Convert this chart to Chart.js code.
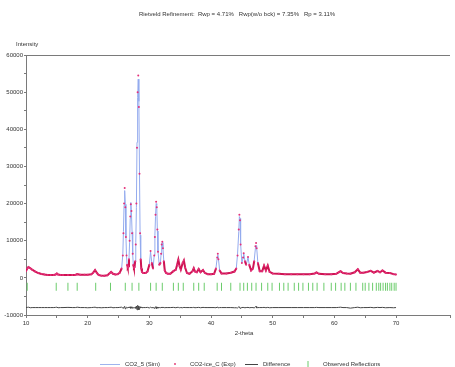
<!DOCTYPE html>
<html><head><meta charset="utf-8">
<script src="https://cdn.jsdelivr.net/npm/chart.js@4"></script>
<style>html,body{margin:0;padding:0;background:#fff}#wrap{width:455px;height:367px}</style>
</head><body><div id="wrap"><canvas id="c" width="455" height="367"></canvas></div>
<script>
const chartTitle = 'Rietveld Refinement:  Rwp = 4.71%   Rwp(w/o bck) = 7.35%   Rp = 3.11%';
const seriesNames = ['CO2_5 (Sim)', 'CO2-ice_C (Exp)', 'Difference', 'Observed Reflections'];
const twoTheta = [10.0,10.2,10.4,10.7,11.0,11.5,12.0,12.5,13.0,13.5,14.0,14.5,14.8,15.0,15.2,15.6,16.0,16.8,17.5,18.0,18.3,18.8,19.5,20.0,20.6,20.9,21.2,21.5,21.8,22.2,22.7,23.2,23.6,23.8,24.1,24.5,24.9,25.2,25.5,25.7,25.8,25.9,26.0,26.1,26.2,26.3,26.4,26.5,26.6,26.7,26.8,26.9,27.0,27.1,27.2,27.3,27.4,27.5,27.6,27.7,27.8,27.9,28.0,28.1,28.2,28.3,28.4,28.5,28.6,28.7,28.8,29.0,29.4,29.7,30.0,30.2,30.4,30.6,30.8,30.9,31.0,31.1,31.2,31.3,31.4,31.6,31.8,31.9,32.0,32.1,32.2,32.35,32.5,32.7,33.0,33.4,33.9,34.3,34.5,34.7,34.9,35.1,35.4,35.6,35.8,36.1,36.5,37.0,37.2,37.4,37.7,38.0,38.3,38.7,39.0,39.5,40.0,40.5,40.8,41.0,41.1,41.2,41.4,41.7,42.5,43.2,43.8,44.1,44.3,44.5,44.6,44.7,44.8,45.0,45.2,45.3,45.5,45.7,46.0,46.2,46.5,46.8,47.0,47.2,47.3,47.4,47.6,47.9,48.3,48.6,48.9,49.2,49.5,50.0,51.0,52.0,53.0,54.0,55.0,56.0,56.8,57.1,57.5,58.5,59.5,60.3,60.7,61.0,61.4,62.0,62.6,63.3,63.8,64.2,64.7,65.3,65.9,66.4,67.0,67.4,67.8,68.3,69.0,69.6,70.0];
const yObs = [1800,2500,2900,2600,2200,1700,1300,1050,900,800,750,750,900,1150,900,750,750,780,800,780,1000,850,850,850,950,1400,2100,1300,750,600,550,700,1300,1600,1100,900,1000,1400,2500,6000,12000,20000,24200,19000,11000,6000,3500,2800,3100,5000,10000,16500,19800,18000,12000,6500,3500,2700,2900,4500,9000,20000,35000,50000,54500,46000,28000,12000,5000,2500,1600,1300,1300,1700,3500,7200,4000,2500,6000,11000,17000,20500,19000,13000,7000,3500,4000,6500,9000,9700,8000,4500,2000,1300,1100,1100,1800,2200,3500,4900,3200,2200,4000,4700,2800,1300,1100,1800,2600,1700,1500,2400,1500,2100,1300,1000,1000,1100,2500,5500,6500,5000,2000,1200,1200,1400,1700,2500,6000,13000,17000,15500,9000,4000,5500,6600,4500,3500,5600,3500,2000,2500,4500,8500,9400,8000,4000,1800,1800,3300,2000,3300,1600,1200,1100,1000,950,950,1000,1000,1150,1450,1100,1000,1000,1100,1500,1800,1300,1150,1100,1500,2300,1400,1350,1600,1900,1400,1850,1500,2000,1400,1300,1000,900];
const yCalc = [1900,2450,2800,2650,2200,1700,1320,1050,900,810,750,760,880,1100,920,750,750,760,800,780,950,850,850,860,950,1350,2050,1350,750,620,560,700,1250,1550,1150,900,1000,1350,2400,6300,12500,19500,23500,19800,11300,5800,3500,2900,3000,5200,9600,16000,20300,17500,12400,6300,3600,2700,3000,4300,9500,19000,36500,48500,53500,47500,28800,11500,5200,2450,1650,1300,1300,1650,3700,7000,4100,2500,6200,11500,16500,20000,19600,12600,7200,3500,4100,6300,9200,9500,8100,4400,2050,1300,1100,1100,1750,2300,3400,4800,3300,2200,4100,4600,2800,1300,1100,1800,2500,1750,1500,2350,1550,2050,1300,1000,1000,1100,2600,5300,6200,5200,2000,1200,1200,1400,1750,2600,6300,12500,16500,16000,9200,4000,5400,6500,4600,3500,5500,3600,2000,2500,4700,8000,8700,8200,4000,1800,1800,3200,2050,3200,1650,1200,1100,1000,950,950,1000,1000,1150,1400,1100,1000,1000,1100,1450,1700,1300,1150,1250,1500,2200,1450,1350,1600,1850,1450,1800,1500,1950,1450,1300,1050,900];
const yDiff = [-8000,-7950,-7900,-8050,-8000,-8000,-8000,-8000,-8000,-8000,-8000,-8000,-7950,-7900,-8050,-8000,-8000,-7950,-8000,-8000,-7900,-8000,-8000,-8050,-8000,-7950,-7900,-8050,-8000,-8050,-8000,-8000,-7950,-7900,-8050,-8000,-8000,-7950,-7900,-8100,-8200,-7800,-7700,-8350,-8100,-7900,-8000,-8050,-7950,-8100,-7850,-7800,-8200,-7800,-8150,-7900,-8050,-8000,-8050,-7900,-8200,-7600,-8600,-7400,-7600,-8600,-8300,-7800,-8100,-7950,-8050,-8000,-8000,-7950,-8100,-7900,-8050,-8000,-8100,-8200,-7800,-7800,-8250,-7850,-8100,-8000,-8050,-7900,-8100,-7900,-8050,-7950,-8050,-8000,-8000,-8000,-7950,-8050,-7950,-7950,-8050,-8000,-8050,-7950,-8000,-8000,-8000,-8000,-7950,-8050,-8000,-7950,-8050,-7950,-8000,-8000,-8000,-8000,-8050,-7900,-7850,-8100,-8000,-8000,-8000,-8000,-8050,-8050,-8100,-7800,-7800,-8200,-8100,-8000,-7950,-7950,-8050,-8000,-7950,-8050,-8000,-8000,-8100,-7800,-7700,-8100,-8000,-8000,-8000,-7950,-8050,-7950,-8050,-8000,-8000,-8000,-8000,-8000,-8000,-8000,-8000,-7950,-8000,-8000,-8000,-8000,-7950,-7900,-8000,-8000,-8150,-8000,-7900,-8050,-8000,-8000,-7950,-8050,-7950,-8000,-7950,-8050,-8000,-8050,-8000];
const reflections = [10.2,14.9,16.8,18.3,21.3,23.7,26.1,27.2,28.3,30.2,31.1,32.1,33.9,34.7,35.5,37.2,38.0,38.9,41.0,41.7,43.2,44.7,45.3,45.9,46.6,47.3,48.2,49.2,49.9,51.1,51.8,52.5,53.5,54.2,54.9,55.8,56.5,57.2,58.3,59.5,60.2,61.1,61.7,62.6,63.5,64.6,65.0,65.6,66.2,66.8,67.2,67.5,67.9,68.3,68.6,69.0,69.3,69.7,70.0];
const reflectionLevel = -2400;
const xTicks = {min: 10, max: 78.75, step: 5, labelEvery: 10};
const yTicks = {min: -10000, max: 60000, step: 5000, labelEvery: 10000};

const pts = (xs, ys) => xs.map((x, i) => ({x, y: ys[i]}));
const FONT = '"Liberation Sans", Arial, sans-serif';
const TXT = '#333';
const AX = '#7a7a7a';

const decor = {
  id: 'decor',
  afterDraw(chart) {
    const c = chart.ctx, a = chart.chartArea;
    c.save();
    c.strokeStyle = AX; c.lineWidth = 1;
    c.beginPath(); c.moveTo(a.left, a.top + 0.5); c.lineTo(a.right, a.top + 0.5); c.stroke();
    c.fillStyle = TXT; c.font = '6px ' + FONT; c.textBaseline = 'middle';
    c.textAlign = 'center';
    c.fillText(chartTitle, 237, 14);
    c.textAlign = 'left';
    c.fillText('Intensity', 16, 44);
    c.textAlign = 'center';
    c.fillText('2-theta', 244, 333);
    const ly = 364;
    c.textAlign = 'left';
    c.strokeStyle = '#9fb4ee'; c.lineWidth = 1;
    c.beginPath(); c.moveTo(100, ly + 0.5); c.lineTo(120, ly + 0.5); c.stroke();
    c.fillText(seriesNames[0], 125, ly);
    c.fillStyle = '#e0306e';
    c.beginPath(); c.arc(175, ly, 0.9, 0, Math.PI * 2); c.fill();
    c.fillStyle = TXT;
    c.fillText(seriesNames[1], 190, ly);
    c.strokeStyle = '#444';
    c.beginPath(); c.moveTo(245, ly + 0.5); c.lineTo(258, ly + 0.5); c.stroke();
    c.fillText(seriesNames[2], 263, ly);
    c.strokeStyle = '#6ccc6c'; c.lineWidth = 1;
    c.beginPath(); c.moveTo(308, ly - 3); c.lineTo(308, ly + 3); c.stroke();
    c.fillText(seriesNames[3], 323, ly);
    c.restore();
  }
};

new Chart(document.getElementById('c'), {
  type: 'scatter',
  data: {
    datasets: [
      {label: seriesNames[0], data: pts(twoTheta, yCalc), showLine: true, borderColor: '#94abee', borderWidth: 1, pointRadius: 0, order: 1},
      {label: seriesNames[1], data: pts(twoTheta, yObs), showLine: true, borderColor: '#cf1452', borderWidth: 2, pointRadius: 1, pointBorderWidth: 0, pointBackgroundColor: '#e4307a', order: 0,
        segment: {borderColor: ctx => (Math.abs(ctx.p1.parsed.y - ctx.p0.parsed.y) > 2500 || Math.max(ctx.p0.parsed.y, ctx.p1.parsed.y) > 5000) ? 'rgba(0,0,0,0)' : undefined}},
      {label: seriesNames[2], data: pts(twoTheta, yDiff), showLine: true, borderColor: '#454545', borderWidth: 1, pointRadius: 0, order: 2},
      {label: seriesNames[3], data: reflections.map(x => ({x, y: reflectionLevel})), showLine: false, pointStyle: 'line', rotation: 90, pointRadius: 4, borderColor: '#6ccc6c', pointBorderColor: '#6ccc6c', borderWidth: 1, pointBorderWidth: 1, order: 3}
    ]
  },
  options: {
    responsive: false, animation: false, devicePixelRatio: 1,
    layout: {padding: {top: 55, left: 0, right: 0, bottom: 0}},
    plugins: {legend: {display: false}, tooltip: {enabled: false}, title: {display: false}},
    elements: {line: {tension: 0}},
    scales: {
      x: {
        type: 'linear', min: xTicks.min, max: xTicks.max,
        afterFit: s => { s.height = 52; },
        border: {display: true, color: AX, width: 1},
        grid: {display: true, drawOnChartArea: false, drawTicks: true, tickLength: 3, color: AX},
        ticks: {stepSize: xTicks.step, autoSkip: false, maxRotation: 0, padding: 2, color: TXT, font: {size: 6, family: FONT},
          callback: v => (v % xTicks.labelEvery === 0 ? String(v) : '')}
      },
      y: {
        type: 'linear', min: yTicks.min, max: yTicks.max,
        afterFit: s => { s.width = 26; },
        border: {display: true, color: AX, width: 1},
        grid: {display: true, drawOnChartArea: false, drawTicks: true, tickLength: 2, color: AX},
        ticks: {stepSize: yTicks.step, autoSkip: false, padding: 1, color: TXT, font: {size: 6, family: FONT},
          callback: v => (v % yTicks.labelEvery === 0 ? String(v) : '')}
      }
    }
  },
  plugins: [decor]
});
</script></body></html>
